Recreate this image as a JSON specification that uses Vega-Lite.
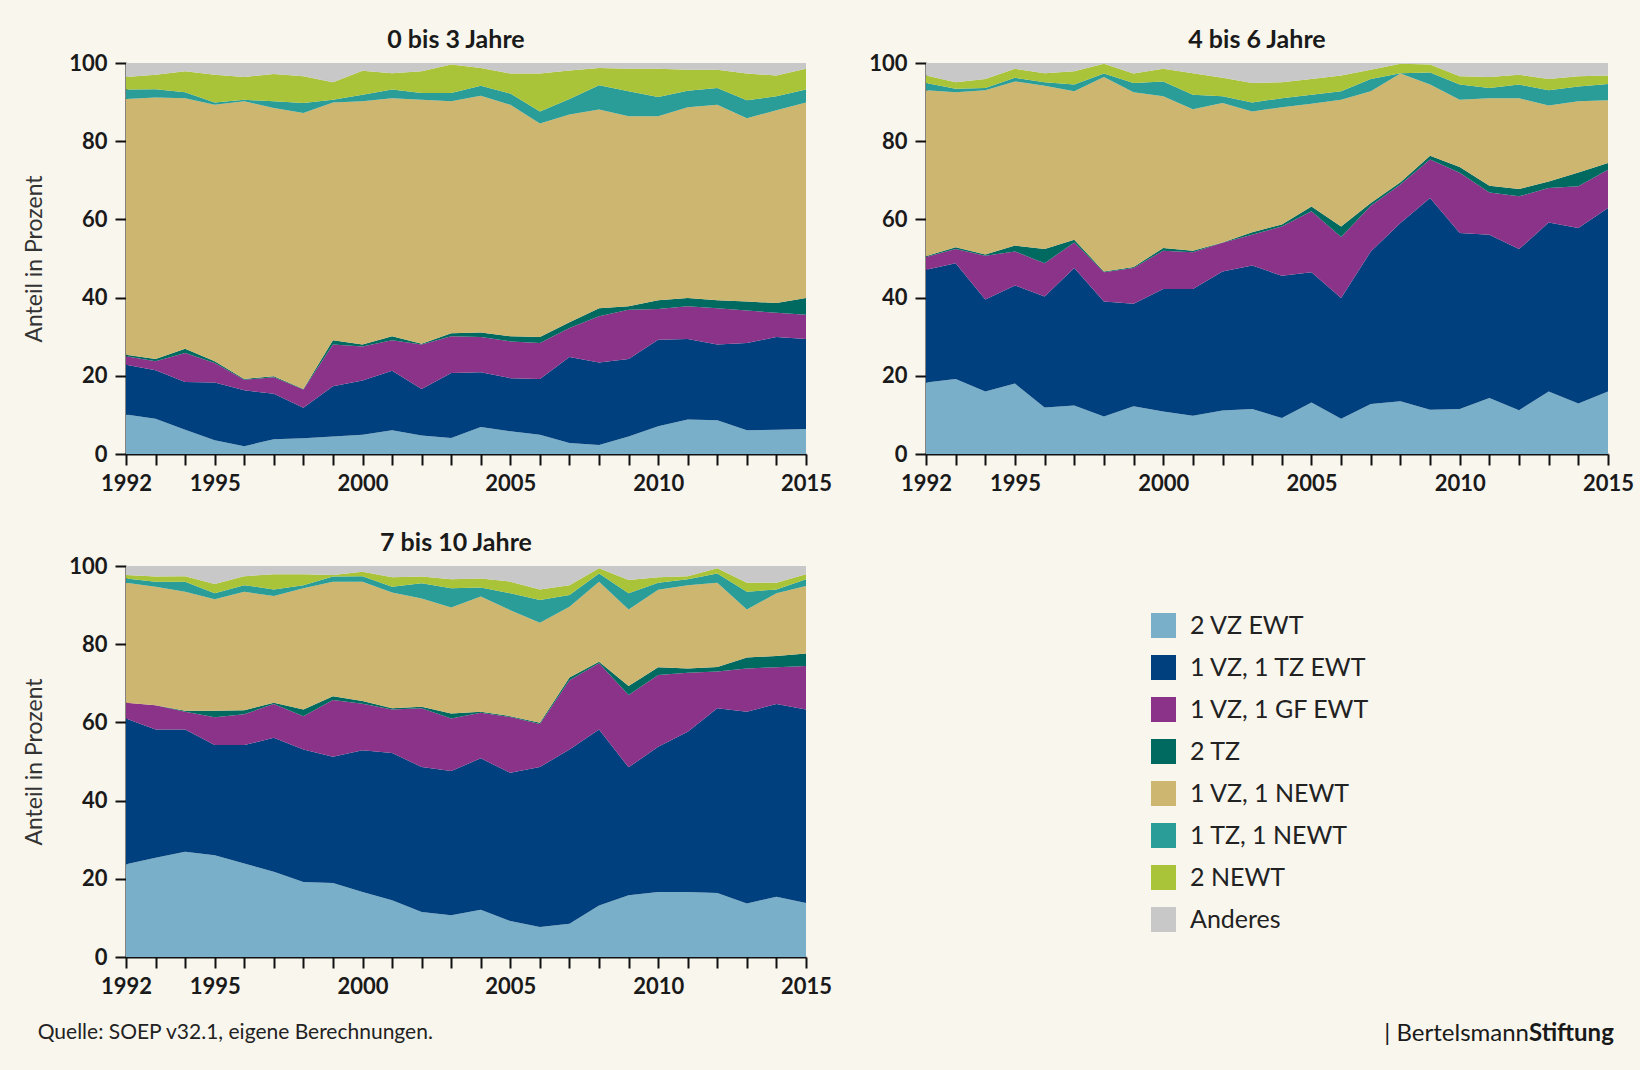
{
  "$schema": "https://vega.github.io/schema/vega-lite/v6.json",
  "background": "#f9f6ee",
  "padding": {"left": 23, "top": 28, "right": 6, "bottom": 24},
  "datasets": {
    "ord": [
      {"k": "a", "Typ": "2 VZ EWT", "o": 1},
      {"k": "b", "Typ": "1 VZ, 1 TZ EWT", "o": 2},
      {"k": "c", "Typ": "1 VZ, 1 GF EWT", "o": 3},
      {"k": "d", "Typ": "2 TZ", "o": 4},
      {"k": "e", "Typ": "1 VZ, 1 NEWT", "o": 5},
      {"k": "f", "Typ": "1 TZ, 1 NEWT", "o": 6},
      {"k": "g", "Typ": "2 NEWT", "o": 7},
      {"k": "h", "Typ": "Anderes", "o": 8}
    ],
    "werte": [
      {"p": 1, "Jahr": 1992, "a": 10.1, "b": 12.7, "c": 2.2, "d": 0.4, "e": 65.4, "f": 2.4, "g": 3.2, "h": 3.6},
      {"p": 1, "Jahr": 1993, "a": 9.0, "b": 12.4, "c": 2.3, "d": 0.6, "e": 66.9, "f": 2.1, "g": 3.7, "h": 3.0},
      {"p": 1, "Jahr": 1994, "a": 6.2, "b": 12.2, "c": 7.4, "d": 1.1, "e": 64.1, "f": 1.5, "g": 5.4, "h": 2.1},
      {"p": 1, "Jahr": 1995, "a": 3.5, "b": 14.8, "c": 5.0, "d": 0.4, "e": 65.6, "f": 0.6, "g": 7.1, "h": 3.0},
      {"p": 1, "Jahr": 1996, "a": 2.0, "b": 14.3, "c": 2.7, "d": 0.2, "e": 71.0, "f": 0.4, "g": 5.8, "h": 3.6},
      {"p": 1, "Jahr": 1997, "a": 3.8, "b": 11.6, "c": 4.2, "d": 0.3, "e": 68.6, "f": 1.7, "g": 7.0, "h": 2.8},
      {"p": 1, "Jahr": 1998, "a": 4.0, "b": 7.8, "c": 4.7, "d": 0.1, "e": 70.6, "f": 2.6, "g": 6.8, "h": 3.4},
      {"p": 1, "Jahr": 1999, "a": 4.5, "b": 12.8, "c": 10.7, "d": 1.1, "e": 60.8, "f": 0.7, "g": 4.5, "h": 4.9},
      {"p": 1, "Jahr": 2000, "a": 4.9, "b": 13.9, "c": 8.7, "d": 0.5, "e": 62.2, "f": 1.7, "g": 6.1, "h": 2.0},
      {"p": 1, "Jahr": 2001, "a": 6.1, "b": 15.2, "c": 7.8, "d": 1.0, "e": 60.9, "f": 2.2, "g": 4.2, "h": 2.6},
      {"p": 1, "Jahr": 2002, "a": 4.7, "b": 11.9, "c": 11.4, "d": 0.2, "e": 62.4, "f": 1.7, "g": 5.6, "h": 2.1},
      {"p": 1, "Jahr": 2003, "a": 4.1, "b": 16.6, "c": 9.4, "d": 0.8, "e": 59.3, "f": 2.1, "g": 7.3, "h": 0.4},
      {"p": 1, "Jahr": 2004, "a": 6.9, "b": 14.0, "c": 9.0, "d": 1.2, "e": 60.5, "f": 2.6, "g": 4.5, "h": 1.3},
      {"p": 1, "Jahr": 2005, "a": 5.8, "b": 13.6, "c": 9.4, "d": 1.3, "e": 59.2, "f": 2.9, "g": 5.1, "h": 2.7},
      {"p": 1, "Jahr": 2006, "a": 4.9, "b": 14.3, "c": 9.2, "d": 1.5, "e": 54.6, "f": 3.1, "g": 9.7, "h": 2.7},
      {"p": 1, "Jahr": 2007, "a": 2.8, "b": 22.0, "c": 7.4, "d": 1.5, "e": 53.1, "f": 4.0, "g": 7.3, "h": 1.9},
      {"p": 1, "Jahr": 2008, "a": 2.3, "b": 21.1, "c": 11.8, "d": 2.1, "e": 50.8, "f": 6.2, "g": 4.4, "h": 1.3},
      {"p": 1, "Jahr": 2009, "a": 4.5, "b": 19.8, "c": 12.6, "d": 0.9, "e": 48.6, "f": 6.4, "g": 5.7, "h": 1.5},
      {"p": 1, "Jahr": 2010, "a": 7.1, "b": 22.1, "c": 7.9, "d": 2.2, "e": 47.1, "f": 4.9, "g": 7.2, "h": 1.5},
      {"p": 1, "Jahr": 2011, "a": 8.8, "b": 20.6, "c": 8.4, "d": 2.1, "e": 48.8, "f": 4.2, "g": 5.4, "h": 1.7},
      {"p": 1, "Jahr": 2012, "a": 8.6, "b": 19.4, "c": 9.3, "d": 2.0, "e": 50.0, "f": 4.3, "g": 4.7, "h": 1.7},
      {"p": 1, "Jahr": 2013, "a": 6.1, "b": 22.3, "c": 8.3, "d": 2.3, "e": 46.9, "f": 4.6, "g": 6.8, "h": 2.7},
      {"p": 1, "Jahr": 2014, "a": 6.2, "b": 23.7, "c": 6.2, "d": 2.5, "e": 49.3, "f": 3.6, "g": 5.3, "h": 3.2},
      {"p": 1, "Jahr": 2015, "a": 6.4, "b": 23.0, "c": 6.2, "d": 4.3, "e": 50.0, "f": 3.3, "g": 5.3, "h": 1.5},
      {"p": 2, "Jahr": 1992, "a": 18.3, "b": 28.8, "c": 3.3, "d": 0.2, "e": 42.4, "f": 1.9, "g": 1.9, "h": 3.2},
      {"p": 2, "Jahr": 1993, "a": 19.2, "b": 29.6, "c": 3.6, "d": 0.5, "e": 39.6, "f": 0.9, "g": 1.7, "h": 4.9},
      {"p": 2, "Jahr": 1994, "a": 16.0, "b": 23.5, "c": 11.2, "d": 0.3, "e": 42.0, "f": 0.6, "g": 2.3, "h": 4.1},
      {"p": 2, "Jahr": 1995, "a": 18.0, "b": 25.1, "c": 8.7, "d": 1.5, "e": 42.0, "f": 0.9, "g": 2.3, "h": 1.5},
      {"p": 2, "Jahr": 1996, "a": 11.9, "b": 28.4, "c": 8.5, "d": 3.6, "e": 41.8, "f": 0.9, "g": 2.3, "h": 2.6},
      {"p": 2, "Jahr": 1997, "a": 12.4, "b": 35.2, "c": 6.5, "d": 0.7, "e": 38.0, "f": 1.7, "g": 3.4, "h": 2.1},
      {"p": 2, "Jahr": 1998, "a": 9.6, "b": 29.4, "c": 7.5, "d": 0.2, "e": 49.7, "f": 0.9, "g": 2.5, "h": 0.2},
      {"p": 2, "Jahr": 1999, "a": 12.2, "b": 26.2, "c": 9.2, "d": 0.2, "e": 44.7, "f": 2.4, "g": 2.4, "h": 2.7},
      {"p": 2, "Jahr": 2000, "a": 10.9, "b": 31.3, "c": 9.8, "d": 0.7, "e": 38.8, "f": 3.8, "g": 3.2, "h": 1.5},
      {"p": 2, "Jahr": 2001, "a": 9.8, "b": 32.4, "c": 9.4, "d": 0.4, "e": 36.2, "f": 3.7, "g": 5.5, "h": 2.6},
      {"p": 2, "Jahr": 2002, "a": 11.1, "b": 35.6, "c": 7.3, "d": 0.1, "e": 35.7, "f": 1.7, "g": 4.7, "h": 3.8},
      {"p": 2, "Jahr": 2003, "a": 11.5, "b": 36.7, "c": 7.9, "d": 0.6, "e": 30.9, "f": 2.3, "g": 5.0, "h": 5.1},
      {"p": 2, "Jahr": 2004, "a": 9.2, "b": 36.4, "c": 12.6, "d": 0.5, "e": 30.0, "f": 2.3, "g": 4.1, "h": 4.9},
      {"p": 2, "Jahr": 2005, "a": 13.2, "b": 33.3, "c": 15.6, "d": 1.2, "e": 26.3, "f": 2.3, "g": 4.0, "h": 4.1},
      {"p": 2, "Jahr": 2006, "a": 9.0, "b": 30.9, "c": 15.6, "d": 2.7, "e": 32.4, "f": 2.2, "g": 4.0, "h": 3.2},
      {"p": 2, "Jahr": 2007, "a": 12.8, "b": 39.0, "c": 11.7, "d": 0.7, "e": 28.6, "f": 3.1, "g": 2.4, "h": 1.7},
      {"p": 2, "Jahr": 2008, "a": 13.5, "b": 45.6, "c": 9.8, "d": 0.6, "e": 27.8, "f": 0.1, "g": 2.4, "h": 0.2},
      {"p": 2, "Jahr": 2009, "a": 11.3, "b": 54.2, "c": 9.8, "d": 1.0, "e": 18.2, "f": 3.1, "g": 2.0, "h": 0.4},
      {"p": 2, "Jahr": 2010, "a": 11.5, "b": 45.0, "c": 15.4, "d": 1.5, "e": 17.2, "f": 3.9, "g": 2.1, "h": 3.4},
      {"p": 2, "Jahr": 2011, "a": 14.3, "b": 41.8, "c": 10.8, "d": 1.7, "e": 22.4, "f": 2.6, "g": 2.8, "h": 3.6},
      {"p": 2, "Jahr": 2012, "a": 11.2, "b": 41.2, "c": 13.5, "d": 1.9, "e": 23.2, "f": 3.5, "g": 2.5, "h": 3.0},
      {"p": 2, "Jahr": 2013, "a": 16.0, "b": 43.2, "c": 8.8, "d": 1.7, "e": 19.4, "f": 3.9, "g": 2.9, "h": 4.1},
      {"p": 2, "Jahr": 2014, "a": 12.9, "b": 44.9, "c": 10.7, "d": 3.5, "e": 18.2, "f": 3.8, "g": 2.6, "h": 3.4},
      {"p": 2, "Jahr": 2015, "a": 16.0, "b": 46.9, "c": 9.8, "d": 1.7, "e": 16.1, "f": 4.1, "g": 2.2, "h": 3.2},
      {"p": 3, "Jahr": 1992, "a": 23.7, "b": 37.3, "c": 4.0, "d": 0.0, "e": 30.7, "f": 1.1, "g": 0.9, "h": 2.3},
      {"p": 3, "Jahr": 1993, "a": 25.4, "b": 32.8, "c": 6.2, "d": 0.0, "e": 30.3, "f": 1.3, "g": 1.3, "h": 2.7},
      {"p": 3, "Jahr": 1994, "a": 26.9, "b": 31.3, "c": 4.5, "d": 0.3, "e": 30.4, "f": 2.6, "g": 1.4, "h": 2.6},
      {"p": 3, "Jahr": 1995, "a": 26.0, "b": 28.2, "c": 7.1, "d": 1.7, "e": 28.5, "f": 1.5, "g": 2.4, "h": 4.6},
      {"p": 3, "Jahr": 1996, "a": 23.9, "b": 30.3, "c": 7.9, "d": 1.0, "e": 30.3, "f": 1.7, "g": 2.3, "h": 2.6},
      {"p": 3, "Jahr": 1997, "a": 21.8, "b": 34.3, "c": 8.6, "d": 0.3, "e": 27.3, "f": 1.7, "g": 3.9, "h": 2.1},
      {"p": 3, "Jahr": 1998, "a": 19.2, "b": 33.9, "c": 8.5, "d": 1.7, "e": 31.0, "f": 0.8, "g": 2.8, "h": 2.1},
      {"p": 3, "Jahr": 1999, "a": 18.9, "b": 32.3, "c": 14.5, "d": 1.0, "e": 29.3, "f": 1.3, "g": 0.4, "h": 2.3},
      {"p": 3, "Jahr": 2000, "a": 16.6, "b": 36.3, "c": 11.9, "d": 0.7, "e": 30.5, "f": 1.4, "g": 1.1, "h": 1.5},
      {"p": 3, "Jahr": 2001, "a": 14.5, "b": 37.7, "c": 11.1, "d": 0.3, "e": 29.6, "f": 1.5, "g": 2.4, "h": 2.9},
      {"p": 3, "Jahr": 2002, "a": 11.5, "b": 37.1, "c": 15.0, "d": 0.4, "e": 27.7, "f": 3.9, "g": 1.7, "h": 2.7},
      {"p": 3, "Jahr": 2003, "a": 10.7, "b": 36.9, "c": 13.4, "d": 1.3, "e": 27.1, "f": 4.9, "g": 2.3, "h": 3.4},
      {"p": 3, "Jahr": 2004, "a": 12.1, "b": 38.7, "c": 11.7, "d": 0.2, "e": 29.5, "f": 2.3, "g": 2.3, "h": 3.2},
      {"p": 3, "Jahr": 2005, "a": 9.2, "b": 37.9, "c": 14.3, "d": 0.2, "e": 27.1, "f": 4.3, "g": 3.0, "h": 4.0},
      {"p": 3, "Jahr": 2006, "a": 7.7, "b": 40.9, "c": 11.0, "d": 0.3, "e": 25.6, "f": 5.8, "g": 2.7, "h": 6.0},
      {"p": 3, "Jahr": 2007, "a": 8.5, "b": 44.6, "c": 17.7, "d": 0.7, "e": 18.1, "f": 3.0, "g": 2.5, "h": 4.9},
      {"p": 3, "Jahr": 2008, "a": 13.2, "b": 45.0, "c": 16.9, "d": 0.4, "e": 20.5, "f": 2.1, "g": 1.3, "h": 0.6},
      {"p": 3, "Jahr": 2009, "a": 15.8, "b": 32.7, "c": 18.5, "d": 2.3, "e": 19.6, "f": 4.1, "g": 3.4, "h": 3.6},
      {"p": 3, "Jahr": 2010, "a": 16.6, "b": 37.2, "c": 18.3, "d": 2.0, "e": 19.8, "f": 1.8, "g": 1.4, "h": 2.9},
      {"p": 3, "Jahr": 2011, "a": 16.6, "b": 41.0, "c": 15.1, "d": 1.1, "e": 21.3, "f": 1.5, "g": 0.8, "h": 2.6},
      {"p": 3, "Jahr": 2012, "a": 16.4, "b": 47.2, "c": 9.4, "d": 1.2, "e": 21.5, "f": 2.4, "g": 1.3, "h": 0.6},
      {"p": 3, "Jahr": 2013, "a": 13.7, "b": 49.0, "c": 11.1, "d": 2.8, "e": 12.3, "f": 4.5, "g": 2.3, "h": 4.3},
      {"p": 3, "Jahr": 2014, "a": 15.4, "b": 49.3, "c": 9.4, "d": 2.9, "e": 16.0, "f": 1.0, "g": 1.7, "h": 4.3},
      {"p": 3, "Jahr": 2015, "a": 13.8, "b": 49.5, "c": 11.1, "d": 3.2, "e": 17.3, "f": 1.7, "g": 1.3, "h": 2.1}
    ]
  },
  "title": {
    "text": "Quelle: SOEP v32.1, eigene Berechnungen.",
    "orient": "bottom",
    "anchor": "start",
    "frame": "bounds",
    "font": "Lato",
    "fontSize": 21,
    "fontWeight": "normal",
    "color": "#222222",
    "offset": -24,
    "dx": 14
  },
  "columns": 2,
  "bounds": "flush",
  "spacing": {"row": 112, "column": 120},
  "concat": [
    {
      "title": {"text": "0 bis 3 Jahre"},
      "width": 680,
      "height": 391,
      "data": {"name": "werte"},
      "transform": [
        {"filter": "datum.p == 1"},
        {"fold": ["a", "b", "c", "d", "e", "f", "g", "h"], "as": ["k", "Anteil"]},
        {"lookup": "k", "from": {"data": {"name": "ord"}, "key": "k", "fields": ["Typ", "o"]}}
      ],
      "mark": {"type": "area", "interpolate": "linear"},
      "encoding": {
        "x": {"field": "Jahr", "type": "quantitative", "scale": {"domain": [1992, 2015], "nice": false, "zero": false},
          "axis": {"title": null, "values": [1992, 1993, 1994, 1995, 1996, 1997, 1998, 1999, 2000, 2001, 2002, 2003, 2004, 2005, 2006, 2007, 2008, 2009, 2010, 2011, 2012, 2013, 2014, 2015], "format": "d", "labelExpr": "indexof([1992, 1995, 2000, 2005, 2010, 2015], datum.value) >= 0 ? datum.label : ''"}},
        "y": {"field": "Anteil", "type": "quantitative", "stack": "zero", "scale": {"domain": [0, 100], "nice": false},
          "axis": {"title": "Anteil in Prozent", "values": [0, 20, 40, 60, 80, 100]}},
        "color": {"field": "Typ", "type": "nominal",
          "scale": {"domain": ["2 VZ EWT", "1 VZ, 1 TZ EWT", "1 VZ, 1 GF EWT", "2 TZ", "1 VZ, 1 NEWT", "1 TZ, 1 NEWT", "2 NEWT", "Anderes"],
                    "range": ["#7aafca", "#00407e", "#8b3388", "#006a60", "#cdb66f", "#2a9d98", "#a9c438", "#c7c8c7"]},
          "legend": {"orient": "none", "legendX": 1025, "legendY": 550}},
        "order": {"field": "o", "type": "quantitative", "sort": "ascending"}
      }
    },
    {
      "title": {"text": "4 bis 6 Jahre"},
      "width": 682,
      "height": 391,
      "data": {"name": "werte"},
      "transform": [
        {"filter": "datum.p == 2"},
        {"fold": ["a", "b", "c", "d", "e", "f", "g", "h"], "as": ["k", "Anteil"]},
        {"lookup": "k", "from": {"data": {"name": "ord"}, "key": "k", "fields": ["Typ", "o"]}}
      ],
      "mark": {"type": "area", "interpolate": "linear"},
      "encoding": {
        "x": {"field": "Jahr", "type": "quantitative", "scale": {"domain": [1992, 2015], "nice": false, "zero": false},
          "axis": {"title": null, "values": [1992, 1993, 1994, 1995, 1996, 1997, 1998, 1999, 2000, 2001, 2002, 2003, 2004, 2005, 2006, 2007, 2008, 2009, 2010, 2011, 2012, 2013, 2014, 2015], "format": "d", "labelExpr": "indexof([1992, 1995, 2000, 2005, 2010, 2015], datum.value) >= 0 ? datum.label : ''"}},
        "y": {"field": "Anteil", "type": "quantitative", "stack": "zero", "scale": {"domain": [0, 100], "nice": false},
          "axis": {"title": null, "values": [0, 20, 40, 60, 80, 100]}},
        "color": {"field": "Typ", "type": "nominal",
          "scale": {"domain": ["2 VZ EWT", "1 VZ, 1 TZ EWT", "1 VZ, 1 GF EWT", "2 TZ", "1 VZ, 1 NEWT", "1 TZ, 1 NEWT", "2 NEWT", "Anderes"],
                    "range": ["#7aafca", "#00407e", "#8b3388", "#006a60", "#cdb66f", "#2a9d98", "#a9c438", "#c7c8c7"]},
          "legend": {"orient": "none", "legendX": 1025, "legendY": 550}},
        "order": {"field": "o", "type": "quantitative", "sort": "ascending"}
      }
    },
    {
      "title": {"text": "7 bis 10 Jahre"},
      "width": 680,
      "height": 391,
      "data": {"name": "werte"},
      "transform": [
        {"filter": "datum.p == 3"},
        {"fold": ["a", "b", "c", "d", "e", "f", "g", "h"], "as": ["k", "Anteil"]},
        {"lookup": "k", "from": {"data": {"name": "ord"}, "key": "k", "fields": ["Typ", "o"]}}
      ],
      "mark": {"type": "area", "interpolate": "linear"},
      "encoding": {
        "x": {"field": "Jahr", "type": "quantitative", "scale": {"domain": [1992, 2015], "nice": false, "zero": false},
          "axis": {"title": null, "values": [1992, 1993, 1994, 1995, 1996, 1997, 1998, 1999, 2000, 2001, 2002, 2003, 2004, 2005, 2006, 2007, 2008, 2009, 2010, 2011, 2012, 2013, 2014, 2015], "format": "d", "labelExpr": "indexof([1992, 1995, 2000, 2005, 2010, 2015], datum.value) >= 0 ? datum.label : ''"}},
        "y": {"field": "Anteil", "type": "quantitative", "stack": "zero", "scale": {"domain": [0, 100], "nice": false},
          "axis": {"title": "Anteil in Prozent", "values": [0, 20, 40, 60, 80, 100]}},
        "color": {"field": "Typ", "type": "nominal",
          "scale": {"domain": ["2 VZ EWT", "1 VZ, 1 TZ EWT", "1 VZ, 1 GF EWT", "2 TZ", "1 VZ, 1 NEWT", "1 TZ, 1 NEWT", "2 NEWT", "Anderes"],
                    "range": ["#7aafca", "#00407e", "#8b3388", "#006a60", "#cdb66f", "#2a9d98", "#a9c438", "#c7c8c7"]},
          "legend": {"orient": "none", "legendX": 1025, "legendY": 550}},
        "order": {"field": "o", "type": "quantitative", "sort": "ascending"}
      }
    },
    {
      "spacing": 0,
      "bounds": "flush",
      "hconcat": [
        {
          "width": 603,
          "height": 391,
          "data": {"values": [{}]},
          "mark": {"type": "point", "opacity": 0},
          "encoding": {},
          "title": {"text": "|  Bertelsmann", "orient": "bottom", "anchor": "end", "frame": "group", "font": "Lato", "fontSize": 24, "fontWeight": "normal", "color": "#1a1a1a", "offset": 65, "dx": 0}
        },
        {
          "width": 90,
          "height": 391,
          "data": {"values": [{}]},
          "mark": {"type": "point", "opacity": 0},
          "encoding": {},
          "title": {"text": "Stiftung", "orient": "bottom", "anchor": "start", "frame": "group", "font": "Lato", "fontSize": 24, "fontWeight": "bold", "color": "#1a1a1a", "offset": 65, "dx": 0}
        }
      ]
    }
  ],
  "config": {
    "view": {"stroke": null},
    "font": "Lato",
    "title": {"font": "Lato", "fontSize": 25, "fontWeight": "bold", "color": "#1a1a1a", "anchor": "middle", "frame": "group", "offset": -1, "dx": -10},
    "axis": {
      "grid": false,
      "domainColor": "#111111",
      "domainWidth": 2,
      "tickColor": "#111111",
      "tickWidth": 2,
      "tickSize": 11,
      "labelFont": "Lato",
      "labelFontSize": 22,
      "labelFontWeight": "bold",
      "labelColor": "#1a1a1a",
      "labelPadding": 8,
      "labelFlush": false,
      "labelBound": false,
      "labelOverlap": false,
      "titleFont": "Lato",
      "titleFontSize": 23,
      "titleFontWeight": "normal",
      "titleColor": "#333333",
      "titlePadding": 22
    },
    "legend": {
      "title": null,
      "symbolType": "square",
      "symbolSize": 625,
      "symbolStrokeWidth": 0,
      "symbolOpacity": 1,
      "labelFont": "Lato",
      "labelFontSize": 25,
      "labelLimit": 400,
      "labelColor": "#222222",
      "labelOffset": 14,
      "rowPadding": 16,
      "padding": 0
    }
  }
}
